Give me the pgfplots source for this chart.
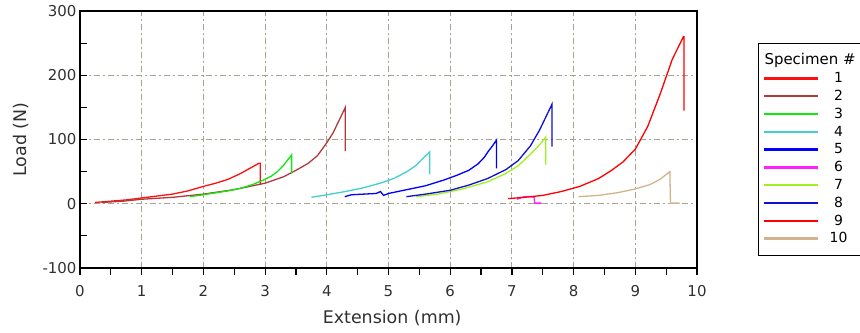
\documentclass[border=0pt]{standalone}
\usepackage{fontspec}
\setmainfont{DejaVu Sans}
\usepackage{pgfplots}
\pgfplotsset{compat=1.18}
\definecolor{c1}{HTML}{FF1010}
\definecolor{c2}{HTML}{B03A3A}
\definecolor{c3}{HTML}{10E810}
\definecolor{c4}{HTML}{40D0D0}
\definecolor{c5}{HTML}{0000FF}
\definecolor{c6}{HTML}{FF20FF}
\definecolor{c7}{HTML}{A0F020}
\definecolor{c8}{HTML}{1010D0}
\definecolor{c9}{HTML}{FF0000}
\definecolor{c10}{HTML}{D2B48C}
\definecolor{gridc}{HTML}{A8A290}
\definecolor{txt}{HTML}{303030}
\begin{document}
\begin{tikzpicture}
\begin{axis}[
  width=617bp, height=257bp, scale only axis,
  xmin=0, xmax=10, ymin=-100, ymax=300,
  xtick={0,1,...,10}, minor xtick={0.5,1.5,...,9.5},
  ytick={-100,0,...,300}, minor ytick={-50,50,150,250},
  xtick pos=bottom, ytick pos=left,
  xtick align=outside, ytick align=inside,
  major tick length=7bp, minor tick length=7bp,
  tick style={line width=1.2bp, black},
  axis line style={line width=1.3bp, black},
  grid=major,
  major grid style={line width=0.9bp, gridc, dash pattern=on 6bp off 3bp on 2bp off 3bp},
  ticklabel style={font=\fontsize{15}{17}\selectfont, text=txt},
  xticklabel style={yshift=-7bp},
  /pgf/number format/assume math mode=true,
  xlabel={Extension (mm)}, ylabel={Load (N)},
  label style={font=\fontsize{17.5}{19}\selectfont, text=txt},
  xlabel style={at={(axis description cs:0.506,-0.1946)}, anchor=center},
  ylabel style={at={(axis description cs:-0.0956,0.5)}, anchor=center},
  legend style={at={(1.099,0.8755)}, anchor=north west, draw=black, line width=1.3bp,
    font=\fontsize{14}{16}\selectfont, inner xsep=4bp, inner ysep=8bp,
    row sep=0pt, nodes={inner ysep=1bp, minimum height=17.8bp}},
  legend image code/.code={\draw[#1, line width=2.3bp] (0bp,0bp) -- (54bp,0bp);},
  every axis plot/.append style={line width=1.3bp},
]
\addlegendimage{empty legend}
\addlegendentry{\makebox[35bp][l]{\hspace*{-56.5bp}\raisebox{1bp}{\fontsize{15}{17}\selectfont Specimen \#}}}

\addplot[c1] coordinates {(0.24,2) (0.5,4) (0.75,6) (1.0,9) (1.25,12) (1.5,15) (1.75,20) (2.0,27) (2.2,32) (2.4,38) (2.6,47) (2.75,55) (2.9,63) (2.92,63) (2.92,30)};
\addlegendentry{\makebox[35bp]{1}}
\addplot[c2] coordinates {(0.35,2) (0.7,4) (1.0,7) (1.5,10) (2.0,15) (2.5,22) (3.0,32) (3.3,42) (3.5,52) (3.7,63) (3.85,75) (4.0,95) (4.1,110) (4.2,130) (4.3,150) (4.3,82)};
\addlegendentry{\makebox[35bp]{2}}
\addplot[c3] coordinates {(1.78,11) (2.0,14) (2.2,17) (2.4,20) (2.6,24) (2.8,30) (3.0,38) (3.1,43) (3.2,50) (3.3,60) (3.38,70) (3.43,76) (3.43,47)};
\addlegendentry{\makebox[35bp]{3}}
\addplot[c4] coordinates {(3.75,10) (4.0,14) (4.3,19) (4.6,25) (4.9,33) (5.1,40) (5.3,50) (5.45,60) (5.55,70) (5.67,81) (5.67,46)};
\addlegendentry{\makebox[35bp]{4}}
\addplot[c5] coordinates {(4.29,11) (4.4,14) (4.8,16) (4.87,19) (4.92,13) (5.0,16) (5.3,22) (5.6,28) (5.9,37) (6.1,44) (6.3,52) (6.45,62) (6.55,72) (6.62,82) (6.67,88) (6.75,99) (6.75,55)};
\addlegendentry{\makebox[35bp]{5}}
\addplot[c6] coordinates {(7.08,7) (7.2,11) (7.3,11) (7.36,10) (7.37,1) (7.48,1)};
\addlegendentry{\makebox[35bp]{6}}
\addplot[c7] coordinates {(5.45,11) (5.8,15) (6.2,23) (6.6,34) (6.9,47) (7.1,59) (7.3,77) (7.45,92) (7.55,104) (7.55,61)};
\addlegendentry{\makebox[35bp]{7}}
\addplot[c8] coordinates {(5.29,11) (5.6,15) (6.0,21) (6.3,29) (6.6,39) (6.9,53) (7.1,67) (7.3,90) (7.45,115) (7.55,135) (7.65,155) (7.65,89)};
\addlegendentry{\makebox[35bp]{8}}
\addplot[c9] coordinates {(6.94,8) (7.2,10) (7.5,13) (7.8,19) (8.1,27) (8.4,39) (8.6,51) (8.8,65) (9.0,85) (9.2,120) (9.4,170) (9.6,225) (9.78,260) (9.79,260) (9.79,145)};
\addlegendentry{\makebox[35bp]{9}}
\addplot[c10] coordinates {(8.08,11) (8.4,13) (8.7,17) (9.0,23) (9.24,30) (9.4,38) (9.56,50) (9.57,1) (9.72,1)};
\addlegendentry{\makebox[35bp]{10}}
\end{axis}
\pgfresetboundingbox
\path[use as bounding box] (-80bp,-65bp) rectangle (780bp,268bp);
\end{tikzpicture}
\end{document}
